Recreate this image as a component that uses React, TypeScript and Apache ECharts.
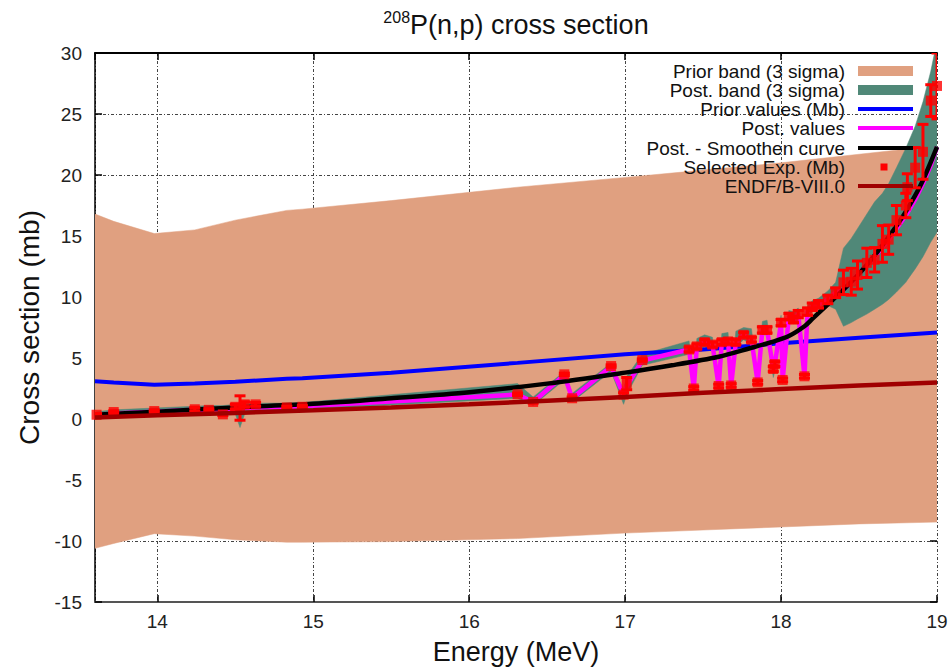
import React, { useEffect, useRef } from "react";
import * as echarts from "echarts";

const FONT = "'Liberation Sans', Arial, Helvetica, sans-serif";

// Prior model on its energy grid (MeV): 3-sigma band and central values
const priorE = [13.6, 13.72, 13.98, 14.24, 14.5, 14.83, 14.93, 15.5, 16.31, 17.0, 17.5, 18.0, 18.5, 19.0];
const priorLow = [-10.6, -10.2, -9.4, -9.6, -9.9, -10.1, -10.1, -10.05, -9.8, -9.35, -9.1, -8.85, -8.6, -8.45];
const priorHigh = [16.8, 16.2, 15.2, 15.5, 16.3, 17.1, 17.2, 17.9, 19.0, 19.8, 20.4, 21.0, 21.7, 22.4];
const priorVal = [3.1, 3.0, 2.8, 2.9, 3.05, 3.3, 3.35, 3.8, 4.6, 5.3, 5.7, 6.2, 6.65, 7.1];

// Experimental energies (MeV), shared by the posterior values
const expE = [
  13.61, 13.72, 13.98, 14.24, 14.33, 14.42, 14.5, 14.53, 14.56, 14.63, 14.83, 14.93,
  16.31, 16.41, 16.61, 16.66, 16.91, 16.99, 17.01, 17.11,
  17.41, 17.44, 17.46, 17.51, 17.56, 17.6, 17.62, 17.66, 17.68, 17.71, 17.76, 17.81, 17.85, 17.88,
  17.91, 17.95, 17.96, 18.0, 18.01, 18.05, 18.08, 18.11, 18.15, 18.17, 18.2, 18.24, 18.3, 18.35,
  18.4, 18.45, 18.49, 18.55, 18.6, 18.65, 18.69, 18.74, 18.8, 18.81, 18.86, 18.91, 18.96, 19.0,
];
const expVal = [
  0.35, 0.57, 0.65, 0.8, 0.75, 0.38, 1.0, 0.9, 1.2, 1.2, 0.95, 1.0,
  2.03, 1.4, 3.66, 1.7, 4.34, 2.0, 2.9, 4.83,
  5.7, 2.5, 5.95, 6.3, 6.1, 2.7, 6.3, 6.36, 2.75, 6.3, 6.9, 6.5, 3.0, 7.3,
  7.3, 4.1, 4.5, 7.9, 3.2, 8.4, 8.15, 8.6, 3.5, 8.8, 9.2, 9.4, 9.8, 10.35,
  11.2, 11.25, 11.8, 12.8, 13.05, 14.35, 14.7, 16.3, 17.5, 19.0, 20.6, 21.9, 26.1, 27.3,
];
const expErr = [
  0.1, 0.1, 0.1, 0.15, 0.1, 0.1, 0.2, 1.0, 0.2, 0.15, 0.1, 0.1,
  0.1, 0.1, 0.1, 0.1, 0.1, 0.15, 0.5, 0.1,
  0.2, 0.15, 0.2, 0.2, 0.2, 0.15, 0.2, 0.2, 0.15, 0.2, 0.2, 0.2, 0.15, 0.25,
  0.25, 0.2, 0.2, 0.25, 0.15, 0.25, 0.25, 0.3, 0.15, 0.3, 0.3, 0.3, 0.35, 0.4,
  1.0, 1.1, 1.15, 1.2, 1.0, 1.5, 1.2, 1.2, 1.0, 1.1, 1.65, 2.25, 1.3, 2.7,
];

// Posterior values and 3-sigma band at the experimental energies
const postVal = [
  0.3, 0.45, 0.6, 0.75, 0.78, 0.8, 0.85, 0.88, 0.9, 0.95, 1.0, 1.05,
  2.0, 1.4, 3.6, 1.7, 4.3, 2.0, 2.7, 4.8,
  5.7, 2.5, 5.95, 6.3, 6.1, 2.7, 6.3, 6.36, 2.75, 6.3, 6.9, 6.5, 3.0, 7.3,
  7.3, 4.1, 4.5, 7.9, 3.2, 8.4, 8.15, 8.6, 3.5, 8.8, 9.2, 9.4, 9.8, 10.35,
  10.6, 11.2, 11.8, 12.6, 13.3, 14.1, 14.7, 15.6, 16.7, 16.9, 18.0, 19.3, 20.8, 22.3,
];
const postLow = [
  0.05, 0.2, 0.35, 0.5, 0.5, 0.5, 0.4, -0.7, 0.4, 0.65, 0.7, 0.75,
  1.7, 1.1, 3.2, 1.4, 3.9, 1.2, 2.0, 4.4,
  5.3, 2.2, 5.6, 5.9, 5.7, 2.4, 5.9, 6.0, 2.4, 5.9, 6.5, 6.1, 2.7, 6.9,
  6.9, 3.4, 3.9, 7.5, 2.9, 8.0, 7.8, 8.2, 3.2, 8.4, 8.8, 9.0, 9.3, 9.0,
  7.6, 7.9, 8.2, 8.6, 9.0, 9.4, 9.8, 10.4, 11.2, 11.4, 12.3, 13.3, 14.5, 15.3,
];
const postHigh = [
  0.6, 0.75, 0.9, 1.05, 1.1, 1.1, 1.2, 1.3, 1.3, 1.3, 1.3, 1.35,
  2.9, 1.8, 3.9, 2.1, 4.6, 2.4, 3.5, 5.3,
  6.4, 2.9, 6.6, 6.9, 6.7, 3.1, 7.0, 7.1, 3.1, 7.2, 7.5, 7.4, 3.4, 8.0,
  8.1, 4.5, 4.9, 8.5, 3.6, 8.9, 8.8, 9.1, 3.9, 9.3, 9.7, 9.9, 10.5, 11.2,
  14.0, 14.8, 15.6, 16.8, 17.8, 18.5, 19.3, 20.6, 22.2, 22.5, 24.0, 26.0, 28.5, 31.0,
];

// Smoothed posterior curve
const smoothE = [13.6, 14.0, 14.5, 15.0, 15.5, 16.0, 16.5, 17.0, 17.3, 17.6, 17.8, 17.95, 18.05, 18.15, 18.2, 18.3, 18.4, 18.5, 18.6, 18.7, 18.8, 18.9, 19.0];
const smoothVal = [0.35, 0.6, 0.95, 1.25, 1.7, 2.2, 2.9, 3.8, 4.4, 5.1, 5.8, 6.35, 6.8, 7.6, 8.2, 9.4, 10.6, 11.9, 13.4, 15.1, 17.0, 19.3, 22.3];

// ENDF/B-VIII.0 evaluation
const endfE = [13.6, 14.0, 14.5, 15.0, 15.5, 16.0, 16.5, 17.0, 17.5, 18.0, 18.5, 19.0];
const endfVal = [0.12, 0.3, 0.5, 0.72, 0.95, 1.2, 1.5, 1.8, 2.15, 2.45, 2.75, 3.0];

const legendItems = [
  "Prior band (3 sigma)",
  "Post. band (3 sigma)",
  "Prior values (Mb)",
  "Post. values",
  "Post. - Smoothen curve",
  "Selected Exp. (Mb)",
  "ENDF/B-VIII.0",
];

const C_PRIOR = "#e0a080";
const C_POST = "#508878";
const C_BLUE = "#0000ff";
const C_MAGENTA = "#ff00ff";
const C_BLACK = "#000000";
const C_RED = "#ff0000";
const C_ENDF = "#a00000";

const pairs = (xs: number[], ys: number[]) => xs.map((x, i) => [x, ys[i]]);

// Filled band between lo and hi, drawn once as a single polygon through the axes' scales
function bandSeries(name: string, xs: number[], lo: number[], hi: number[], color: string, z: number) {
  return {
    type: "custom",
    name,
    xAxisIndex: 0,
    yAxisIndex: 0,
    clip: true,
    silent: true,
    z,
    encode: { x: 0, y: [1, 2] },
    data: xs.map((x, i) => [x, lo[i], hi[i]]),
    renderItem: (params: any, api: any) => {
      if (params.dataIndex !== 0) return { type: "group", children: [] };
      const upper = xs.map((x, i) => api.coord([x, hi[i]]));
      const lower = xs.map((x, i) => api.coord([x, lo[i]])).reverse();
      return {
        type: "polygon",
        shape: { points: upper.concat(lower) },
        style: { fill: color, stroke: color, lineWidth: 0.5 },
      };
    },
  };
}

function buildOption() {
  const lineBase = {
    type: "line",
    showSymbol: false,
    symbol: "none",
    xAxisIndex: 0,
    yAxisIndex: 0,
    silent: true,
  };

  const legendGraphics: any[] = [];
  const rowY = [71, 90, 109, 128, 148, 167, 186];
  const textRight = 845;
  const sx1 = 858;
  const sx2 = 913;
  legendItems.forEach((label, i) => {
    legendGraphics.push({
      type: "text",
      x: textRight,
      y: rowY[i],
      z: 100,
      style: {
        text: label,
        align: "right",
        verticalAlign: "middle",
        fontFamily: FONT,
        fontSize: 19,
        fill: "#111",
      },
    });
  });
  legendGraphics.push(
    { type: "rect", z: 100, shape: { x: sx1, y: rowY[0] - 5, width: sx2 - sx1, height: 10 }, style: { fill: C_PRIOR } },
    { type: "rect", z: 100, shape: { x: sx1, y: rowY[1] - 5, width: sx2 - sx1, height: 10 }, style: { fill: C_POST } },
    { type: "line", z: 100, shape: { x1: sx1, y1: rowY[2], x2: sx2, y2: rowY[2] }, style: { stroke: C_BLUE, lineWidth: 4 } },
    { type: "line", z: 100, shape: { x1: sx1, y1: rowY[3], x2: sx2, y2: rowY[3] }, style: { stroke: C_MAGENTA, lineWidth: 4 } },
    { type: "line", z: 100, shape: { x1: sx1, y1: rowY[4], x2: sx2, y2: rowY[4] }, style: { stroke: C_BLACK, lineWidth: 4 } },
    { type: "rect", z: 100, shape: { x: 880.5, y: rowY[5] - 3.5, width: 7, height: 7 }, style: { fill: C_RED } },
    { type: "line", z: 100, shape: { x1: sx1, y1: rowY[6], x2: sx2, y2: rowY[6] }, style: { stroke: C_ENDF, lineWidth: 4 } }
  );

  const title = {
    type: "text",
    x: 516,
    y: 25,
    z: 100,
    style: {
      text: "{sup|208}{main|P(n,p) cross section}",
      align: "center",
      verticalAlign: "middle",
      fill: "#111",
      rich: {
        sup: { fontSize: 16, fontFamily: FONT, verticalAlign: "top", lineHeight: 32, padding: [0, 0, 13, 0] },
        main: { fontSize: 27, fontFamily: FONT, lineHeight: 32 },
      },
    },
  };

  const axisTick = { inside: true, length: 7, lineStyle: { color: "#000", width: 1.5 } };
  const gridLine = { show: true, lineStyle: { type: [3, 2, 1, 2], color: "#444", width: 1 } };

  return {
    animation: false,
    backgroundColor: "#ffffff",
    grid: { left: 95, right: 14, top: 53, bottom: 67, containLabel: false },
    xAxis: [
      {
        type: "value",
        position: "bottom",
        min: 13.6,
        max: 19,
        minInterval: 1,
        maxInterval: 1,
        axisLine: { onZero: false, lineStyle: { color: "#555", width: 2 } },
        axisTick,
        axisLabel: {
          showMinLabel: false,
          fontFamily: FONT,
          fontSize: 19,
          color: "#222",
          margin: 10,
          formatter: (v: number) => (Number.isInteger(v) ? String(v) : ""),
        },
        splitLine: gridLine,
        name: "Energy (MeV)",
        nameLocation: "middle",
        nameGap: 36,
        nameTextStyle: { fontFamily: FONT, fontSize: 27, color: "#111" },
      },
      {
        type: "value",
        position: "top",
        min: 13.6,
        max: 19,
        minInterval: 1,
        maxInterval: 1,
        axisLine: { onZero: false, lineStyle: { color: "#000", width: 2 } },
        axisTick,
        axisLabel: { show: false },
        splitLine: { show: false },
      },
    ],
    yAxis: [
      {
        type: "value",
        position: "left",
        min: -15,
        max: 30,
        interval: 5,
        axisLine: { show: true, onZero: false, lineStyle: { color: "#000", width: 1.5 } },
        axisTick,
        axisLabel: { fontFamily: FONT, fontSize: 19, color: "#222", margin: 13 },
        splitLine: gridLine,
        name: "Cross section (mb)",
        nameLocation: "middle",
        nameGap: 52,
        nameTextStyle: { fontFamily: FONT, fontSize: 28, color: "#111" },
      },
      {
        type: "value",
        position: "right",
        min: -15,
        max: 30,
        interval: 5,
        axisLine: { show: false, onZero: false },
        axisTick,
        axisLabel: { show: false },
        splitLine: { show: false },
      },
    ],
    graphic: [title, ...legendGraphics],
    series: [
      bandSeries("Prior band (3 sigma)", priorE, priorLow, priorHigh, C_PRIOR, 1),
      bandSeries("Post. band (3 sigma)", expE, postLow, postHigh, C_POST, 2),
      {
        ...lineBase,
        name: "Prior values (Mb)",
        data: pairs(priorE, priorVal),
        lineStyle: { color: C_BLUE, width: 4 },
        z: 3,
      },
      {
        ...lineBase,
        name: "Post. values",
        data: pairs(expE, postVal),
        lineStyle: { color: C_MAGENTA, width: 4.5 },
        z: 4,
      },
      {
        ...lineBase,
        name: "Post. - Smoothen curve",
        data: pairs(smoothE, smoothVal),
        smooth: 0.3,
        lineStyle: { color: C_BLACK, width: 4.5 },
        z: 5,
      },
      {
        type: "custom",
        name: "Selected Exp. errors",
        xAxisIndex: 0,
        yAxisIndex: 0,
        clip: true,
        silent: true,
        z: 6,
        encode: { x: 0, y: 1 },
        data: expE.map((x, i) => [x, expVal[i], expErr[i]]),
        renderItem: (_params: any, api: any) => {
          const x = api.value(0);
          const y = api.value(1);
          const e = api.value(2);
          const top = api.coord([x, y + e]);
          const bot = api.coord([x, y - e]);
          const hw = 5.5;
          const st = { stroke: C_RED, lineWidth: 3 };
          return {
            type: "group",
            children: [
              { type: "line", shape: { x1: top[0], y1: top[1], x2: bot[0], y2: bot[1] }, style: st },
              { type: "line", shape: { x1: top[0] - hw, y1: top[1], x2: top[0] + hw, y2: top[1] }, style: st },
              { type: "line", shape: { x1: bot[0] - hw, y1: bot[1], x2: bot[0] + hw, y2: bot[1] }, style: st },
            ],
          };
        },
      },
      {
        type: "scatter",
        name: "Selected Exp. (Mb)",
        xAxisIndex: 0,
        yAxisIndex: 0,
        silent: true,
        z: 7,
        symbol: "rect",
        symbolSize: 10,
        itemStyle: { color: C_RED },
        data: pairs(expE, expVal),
      },
      {
        ...lineBase,
        name: "ENDF/B-VIII.0",
        data: pairs(endfE, endfVal),
        lineStyle: { color: C_ENDF, width: 4.5 },
        z: 8,
      },
    ],
  };
}

export default function App() {
  const ref = useRef<HTMLDivElement>(null);
  useEffect(() => {
    if (!ref.current) return;
    const chart = echarts.init(ref.current, null, { renderer: "svg" });
    chart.setOption(buildOption() as any);
    return () => chart.dispose();
  }, []);
  return (
    <div
      ref={ref}
      style={{ position: "fixed", left: 0, top: 0, width: 951, height: 670, background: "#fff" }}
    />
  );
}
